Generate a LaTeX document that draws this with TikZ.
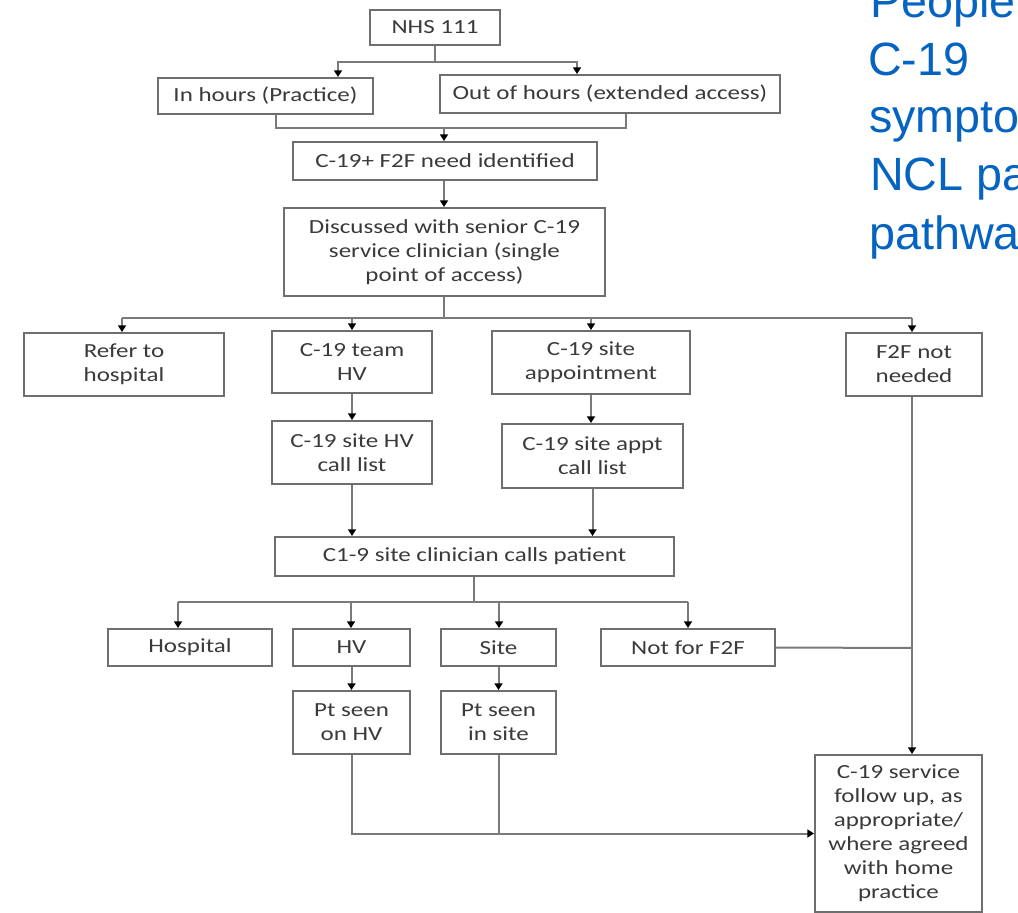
\documentclass[tikz,border=0pt]{standalone}
\usepackage{fontspec}
\setmainfont{Carlito}
\newfontfamily\boxfont{Carlito}[FakeStretch=1.25]
\newfontfamily\titlefont{Liberation Sans}
\usetikzlibrary{arrows.meta}
\definecolor{boxgray}{HTML}{6E6E6E}
\definecolor{linegray}{HTML}{7A7A7A}
\definecolor{textgray}{HTML}{3A3A3A}
\definecolor{titleblue}{RGB}{5,99,193}
\tikzset{
  box/.style={draw=boxgray, line width=1.5pt, align=center, inner sep=0pt,
    font=\boxfont\fontsize{15pt}{18pt}\selectfont, text=textgray},
  wh/.style 2 args={minimum width=0.75*#1pt, minimum height=0.75*#2pt},
  conn/.style={draw=linegray, line width=1.5pt},
  arr/.style={conn, -{Triangle[width=6pt,length=5pt,fill=black,color=black]}},
  titletext/.style={anchor=base west, inner sep=0pt, text=titleblue,
    font=\titlefont\fontsize{35pt}{42pt}\selectfont}
}
\begin{document}
\begin{tikzpicture}[x=0.75pt,y=-0.75pt]
\useasboundingbox (0,0) rectangle (1018,913);
\fill[white] (0,0) rectangle (1018,913);

% title (cropped at the right edge)
\begin{scope}
\clip (0,0) rectangle (1018,913);
\node[titletext] (t1) at (870,18) {People with};
\node[titletext] (t2) at (868,76) {C-19};
\node[titletext] (t3) at (869,133) {symptoms:};
\node[titletext] (t4) at (870,191) {NCL patient};
\node[titletext] (t5) at (869,249) {pathway};
\end{scope}

% boxes
\node[box, wh={130}{35}] (nhs) at (435,27.5) {NHS 111};
\node[box, wh={215}{36}] (inh) at (265.5,96) {In hours (Practice)};
\node[box, wh={340}{38}] (ooh) at (610,94) {Out of hours (extended access)};
\node[box, wh={304}{38}] (f2f) at (445,161) {C-19+ F2F need identified};
\node[box, wh={321}{88}] (disc) at (444.5,252) {Discussed with senior C-19\\service clinician (single\\point of access)};
\node[box, wh={200}{63}] (refer) at (124,364.5) {Refer to\\hospital};
\node[box, wh={160}{62}] (team) at (352,362) {C-19 team\\HV};
\node[box, wh={198}{63}] (siteapp) at (591,362.5) {C-19 site\\appointment};
\node[box, wh={136}{63}] (notneeded) at (914,364.5) {F2F not\\needed};
\node[box, wh={160}{63}] (hvlist) at (352,452.5) {C-19 site HV\\call list};
\node[box, wh={181}{64}] (apptlist) at (592.5,456) {C-19 site appt\\call list};
\node[box, wh={399}{39}] (calls) at (474.5,556.5) {C1-9 site clinician calls patient};
\node[box, wh={164}{37}] (hosp) at (190,647.5) {Hospital};
\node[box, wh={117}{37}] (hv) at (351.5,647.5) {HV};
\node[box, wh={115}{37}] (site) at (498.5,647.5) {Site};
\node[box, wh={174}{37}] (nf2f) at (688,647.5) {Not for F2F};
\node[box, wh={117}{63}] (seenhv) at (351.5,722.5) {Pt seen\\on HV};
\node[box, wh={115}{63}] (seensite) at (498.5,722.5) {Pt seen\\in site};
\node[box, wh={167}{157}] (follow) at (898.5,833.5) {C-19 service\\follow up, as\\appropriate/\\where agreed\\with home\\practice};

% connector junctions
\coordinate (j1) at (435,62);
\coordinate (j1l) at (338,62);
\coordinate (j1r) at (577,62);
\coordinate (j2l) at (276,128);
\coordinate (j2r) at (626,128);
\coordinate (j2) at (444,128);
\coordinate (j3) at (444,318);
\coordinate (j3a) at (122,318);
\coordinate (j3b) at (352,318);
\coordinate (j3c) at (591,318);
\coordinate (j3d) at (912,318);
\coordinate (j4) at (474,602);
\coordinate (j4a) at (178,602);
\coordinate (j4b) at (351,602);
\coordinate (j4c) at (499,602);
\coordinate (j4d) at (688,602);
\coordinate (j5) at (912,648);

% NHS 111 split
\draw[conn] (nhs.south -| j1) -- (j1);
\draw[arr] (j1) -- (j1l) -- (j1l |- inh.north);
\draw[arr] (j1) -- (j1r) -- (j1r |- ooh.north);
% merge into F2F need
\draw[conn] (j2l |- inh.south) -- (j2l) -- (j2r) -- (j2r |- ooh.south);
\draw[arr] (j2) -- (j2 |- f2f.north);
\draw[arr] (j2 |- f2f.south) -- (j2 |- disc.north);
% discussed split
\draw[conn] (j3 |- disc.south) -- (j3);
\draw[conn] (j3a) -- (j3d);
\draw[arr] (j3a) -- (j3a |- refer.north);
\draw[arr] (j3b) -- (j3b |- team.north);
\draw[arr] (j3c) -- (j3c |- siteapp.north);
\draw[arr] (j3d) -- (j3d |- notneeded.north);
% call lists
\draw[arr] (team.south) -- (hvlist.north);
\draw[arr] (j3c |- siteapp.south) -- (j3c |- apptlist.north);
\draw[arr] (hvlist.south) -- (hvlist.south |- calls.north);
\draw[arr] (apptlist.south) -- (apptlist.south |- calls.north);
% calls split
\draw[conn] (j4 |- calls.south) -- (j4);
\draw[conn] (j4a) -- (j4d);
\draw[arr] (j4a) -- (j4a |- hosp.north);
\draw[arr] (j4b) -- (j4b |- hv.north);
\draw[arr] (j4c) -- (j4c |- site.north);
\draw[arr] (j4d) -- (j4d |- nf2f.north);
\draw[arr] (hv.south) -- (seenhv.north);
\draw[arr] (site.south) -- (seensite.north);
% follow up
\draw[arr] (j3d |- notneeded.south) -- (j3d |- follow.north);
\draw[conn] (nf2f.east) -- (j5);
\draw[arr] (seenhv.south) |- (follow.west);
\draw[conn] (seensite.south) -- (seensite.south |- follow.west);
\end{tikzpicture}
\end{document}
